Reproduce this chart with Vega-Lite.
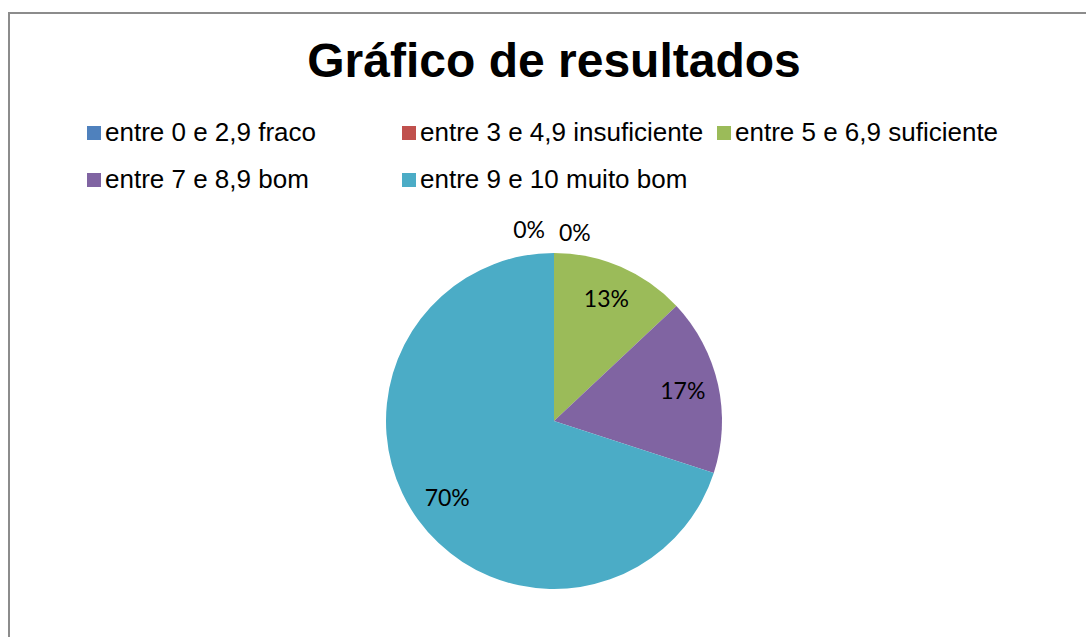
{
  "$schema": "https://vega.github.io/schema/vega-lite/v6.json",
  "width": 1090,
  "height": 816,
  "autosize": {"type": "none"},
  "padding": {"left": 9, "top": 13, "right": 0, "bottom": 0},
  "background": "white",
  "view": {"stroke": "#8c8c8c", "strokeWidth": 2, "fill": "white"},
  "title": {
    "text": "Gráfico de resultados",
    "font": "Liberation Sans",
    "fontSize": 48,
    "fontWeight": "bold",
    "color": "black",
    "anchor": "middle",
    "frame": "group",
    "baseline": "alphabetic",
    "offset": -67,
    "dy": 45
  },
  "data": {
    "values": [
      {"cat": "entre 0 e 2,9 fraco", "pct": 0, "ord": 1},
      {"cat": "entre 3 e 4,9 insuficiente", "pct": 0, "ord": 2},
      {"cat": "entre 5 e 6,9 suficiente", "pct": 0.13, "ord": 3},
      {"cat": "entre 7 e 8,9 bom", "pct": 0.17, "ord": 4},
      {"cat": "entre 9 e 10 muito bom", "pct": 0.70, "ord": 5}
    ]
  },
  "encoding": {
    "theta": {"field": "pct", "type": "quantitative", "stack": true},
    "order": {"field": "ord", "type": "quantitative"}
  },
  "layer": [
    {
      "mark": {"type": "arc", "outerRadius": 168},
      "encoding": {
        "color": {
          "field": "cat",
          "type": "nominal",
          "sort": ["entre 0 e 2,9 fraco", "entre 3 e 4,9 insuficiente", "entre 5 e 6,9 suficiente", "entre 7 e 8,9 bom", "entre 9 e 10 muito bom"],
          "scale": {
            "domain": ["entre 0 e 2,9 fraco", "entre 3 e 4,9 insuficiente", "entre 5 e 6,9 suficiente", "entre 7 e 8,9 bom", "entre 9 e 10 muito bom"],
            "range": ["#4F81BD", "#C0504D", "#9BBB59", "#8064A2", "#4BACC6"]
          },
          "legend": {
            "title": null,
            "orient": "none",
            "legendX": 72,
            "legendY": 107,
            "columns": 3,
            "direction": "horizontal",
            "gridAlign": "all",
            "columnPadding": 7,
            "rowPadding": 21,
            "symbolType": "square",
            "symbolSize": 196,
            "symbolStrokeWidth": 0,
            "symbolOpacity": 1,
            "labelFont": "Liberation Sans",
            "labelFontSize": 26,
            "labelColor": "black",
            "labelOffset": -2,
            "labelLimit": 0
          }
        }
      }
    },
    {
      "transform": [{"filter": "datum.pct > 0"}],
      "mark": {"type": "text", "radius": 132, "font": "Lato", "fontSize": 23, "color": "black"},
      "encoding": {"text": {"field": "pct", "type": "quantitative", "format": ".0%"}}
    },
    {
      "transform": [{"filter": "datum.ord == 1"}],
      "mark": {"type": "text", "radius": 190, "align": "right", "dx": -9, "font": "Lato", "fontSize": 23, "color": "black"},
      "encoding": {"text": {"field": "pct", "type": "quantitative", "format": ".0%"}}
    },
    {
      "transform": [{"filter": "datum.ord == 2"}],
      "mark": {"type": "text", "radius": 187, "align": "left", "dx": 5, "font": "Lato", "fontSize": 23, "color": "black"},
      "encoding": {"text": {"field": "pct", "type": "quantitative", "format": ".0%"}}
    }
  ]
}
